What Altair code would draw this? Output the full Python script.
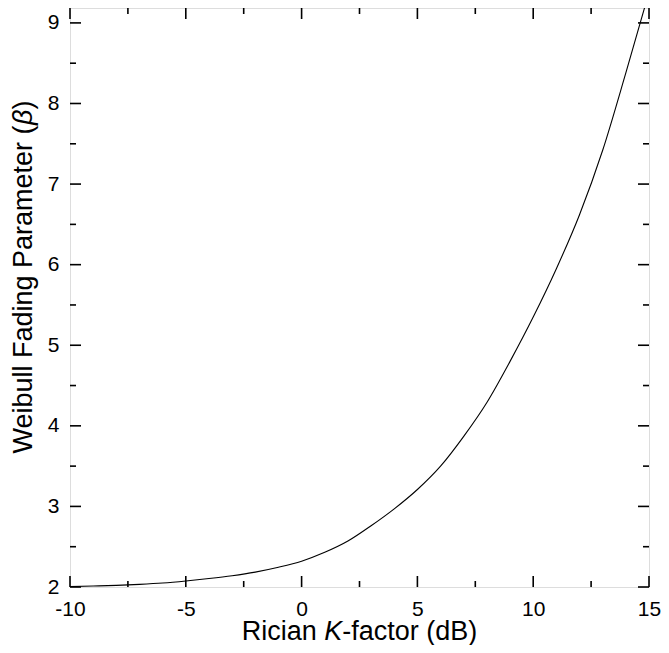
import altair as alt
import pandas as pd

# ---- data ----
k_db = [-10, -9, -8, -7, -6, -5, -4, -3, -2, -1, 0, 1, 2, 3, 4, 5, 6, 7, 8, 9, 10, 11, 12, 13, 14, 15]
beta = [2.005, 2.012, 2.02, 2.033, 2.05, 2.075, 2.105, 2.14, 2.185, 2.245, 2.32, 2.43, 2.57, 2.76,
        2.97, 3.21, 3.50, 3.87, 4.29, 4.80, 5.35, 5.95, 6.62, 7.42, 8.38, 9.38]

x_major = [-10, -5, 0, 5, 10, 15]
x_minor = [-7.5, -2.5, 2.5, 7.5, 12.5]
y_major = [2, 3, 4, 5, 6, 7, 8, 9]
y_minor = [2.5, 3.5, 4.5, 5.5, 6.5, 7.5, 8.5]

X_DOMAIN = [-10, 15]
Y_DOMAIN = [2, 9.185]

W, H = 579, 579
PAD_L, PAD_R, PAD_T, PAD_B = 62, 12, 0, 58
FONT = "Liberation Sans"
LABEL_SIZE = 21
TITLE_SIZE = 27

# Arial / Liberation Sans advance widths (per 1000 em), for placing mixed-style titles
ADV = {" ": 278, "(": 333, ")": 333, "-": 333, "B": 667, "F": 611, "K": 667, "P": 667,
       "R": 722, "W": 944, "a": 556, "b": 556, "c": 500, "d": 556, "e": 556, "f": 278,
       "g": 556, "i": 222, "l": 222, "m": 833, "n": 556, "o": 556, "r": 333, "t": 278,
       "u": 556, "β": 575}


def tw(s, size):
    return sum(ADV.get(ch, 556) for ch in s) * size / 1000.0


df = pd.DataFrame({"k": k_db, "beta": beta})
xs = alt.Scale(domain=X_DOMAIN, nice=False, zero=False)
ys = alt.Scale(domain=Y_DOMAIN, nice=False, zero=False)

x_axis = alt.Axis(values=x_major, ticks=False, tickSize=0, domain=False, grid=False,
                  labelFont=FONT, labelFontSize=LABEL_SIZE, labelColor="black",
                  labelPadding=11, labelFlush=False, labelOverlap=False, title=None,
                  labelExpr="'' + datum.value")
y_axis = alt.Axis(values=y_major, ticks=False, tickSize=0, domain=False, grid=False,
                  labelFont=FONT, labelFontSize=LABEL_SIZE, labelColor="black",
                  labelPadding=11, labelFlush=False, labelOverlap=False, title=None,
                  labelExpr="'' + datum.value")

curve = alt.Chart(df).mark_line(color="black", strokeWidth=1.1, clip=True,
                                interpolate="monotone").encode(
    x=alt.X("k:Q", scale=xs, axis=x_axis),
    y=alt.Y("beta:Q", scale=ys, axis=y_axis),
)

MAJ, MIN = 11, 6
tick_style = dict(color="black", strokeWidth=1.6)


def xticks(vals, length):
    d = pd.DataFrame({"v": vals})
    bot = alt.Chart(d).mark_rule(**tick_style).encode(
        x=alt.X("v:Q", scale=xs), y=alt.value(H), y2=alt.value(H - length))
    top = alt.Chart(d).mark_rule(**tick_style).encode(
        x=alt.X("v:Q", scale=xs), y=alt.value(0), y2=alt.value(length))
    return [bot, top]


def yticks(vals, length):
    d = pd.DataFrame({"v": vals})
    left = alt.Chart(d).mark_rule(**tick_style).encode(
        y=alt.Y("v:Q", scale=ys), x=alt.value(0), x2=alt.value(length))
    right = alt.Chart(d).mark_rule(**tick_style).encode(
        y=alt.Y("v:Q", scale=ys), x=alt.value(W), x2=alt.value(W - length))
    return [left, right]


ticks = xticks(x_major, MAJ) + xticks(x_minor, MIN) + yticks(y_major, MAJ) + yticks(y_minor, MIN)

# ---- x title: "Rician " + italic "K" + "-factor (dB)"
xt_parts = [("Rician ", "normal"), ("K", "italic"), ("-factor (dB)", "normal")]
xt_total = sum(tw(s, TITLE_SIZE) for s, _ in xt_parts)
xt_x = W / 2 - xt_total / 2
xt_y = 632
title_layers = []
for s, style in xt_parts:
    title_layers.append(
        alt.Chart(pd.DataFrame({"t": [s]})).mark_text(
            font=FONT, fontSize=TITLE_SIZE, fontStyle=style, align="left",
            baseline="alphabetic", color="black").encode(
            text="t:N", x=alt.value(xt_x), y=alt.value(xt_y)))
    xt_x += tw(s, TITLE_SIZE)

# ---- y title: "Weibull Fading Parameter (" + italic "β" + ")"
yt_parts = [("Weibull Fading Parameter (", "normal"), ("β", "italic"), (")", "normal")]
yt_total = sum(tw(s, TITLE_SIZE) for s, _ in yt_parts)
yt_center = 269
yt_y = yt_center + yt_total / 2
yt_x = -46
for s, style in yt_parts:
    title_layers.append(
        alt.Chart(pd.DataFrame({"t": [s]})).mark_text(
            font=FONT, fontSize=TITLE_SIZE, fontStyle=style, align="left",
            baseline="middle", angle=270, color="black").encode(
            text="t:N", x=alt.value(yt_x), y=alt.value(yt_y)))
    yt_y -= tw(s, TITLE_SIZE)

chart = alt.layer(curve, *ticks, *title_layers).properties(
    width=W, height=H,
    autosize=alt.AutoSizeParams(type="none"),
    padding={"left": PAD_L, "top": PAD_T, "right": PAD_R, "bottom": PAD_B},
).configure_view(stroke="black", strokeWidth=2).configure(background="white")

chart.save("out.html", embed_options={"renderer": "svg", "actions": False})
